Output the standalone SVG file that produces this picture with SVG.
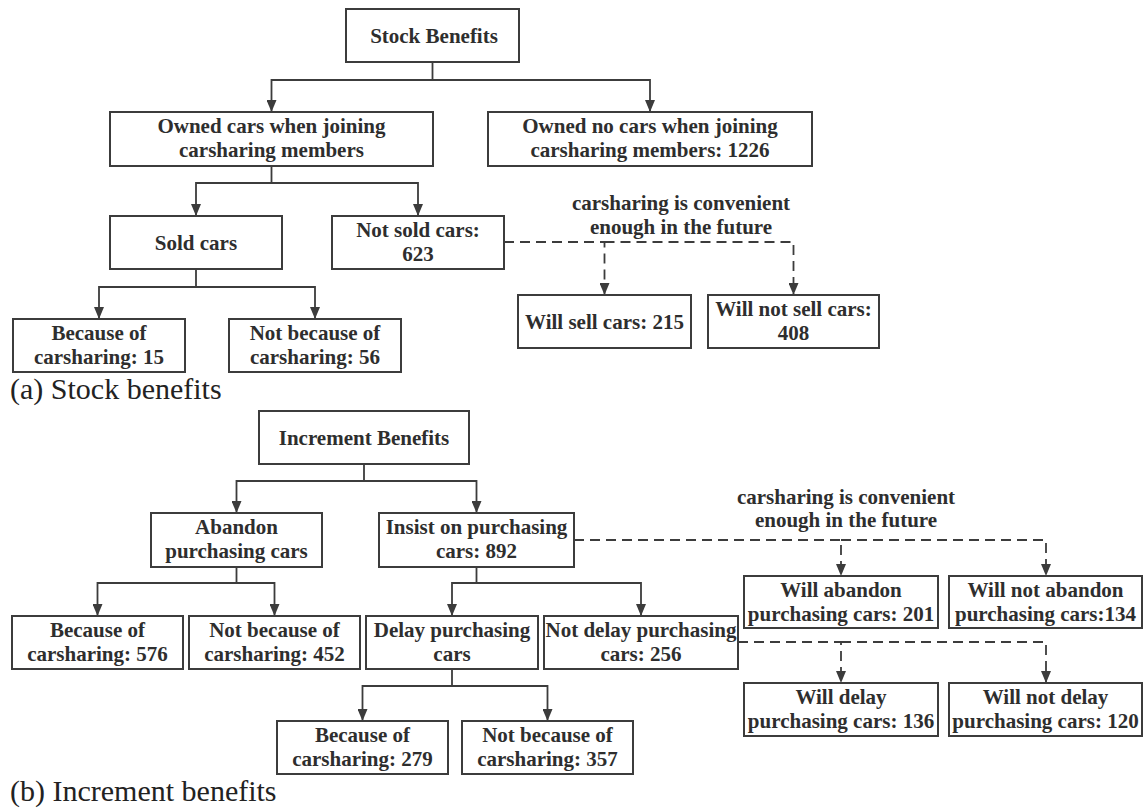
<svg xmlns="http://www.w3.org/2000/svg" width="1143" height="811" viewBox="0 0 1143 811">
<style>
.box{fill:#fff;stroke:#3c3c3c;stroke-width:2}
.t{font-family:"Liberation Serif","Times New Roman",serif;font-weight:bold;font-size:21px;fill:#2e2e2e;text-anchor:middle}
.cap{font-family:"Liberation Serif","Times New Roman",serif;font-size:30px;fill:#222}
.ln{fill:none;stroke:#3c3c3c;stroke-width:1.8}
.dash{stroke-dasharray:10,6}
</style>
<defs>
<marker id="ah" viewBox="0 0 12 10" refX="12" refY="5" markerWidth="12" markerHeight="10" markerUnits="userSpaceOnUse" orient="auto">
<path d="M0,0 L12,5 L0,10 z" fill="#3c3c3c"/>
</marker>
</defs>
<rect width="1143" height="811" fill="#fff"/>

<g id="connectors">
<path class="ln" marker-end="url(#ah)" d="M432.5,62 V80 H271.5 V112"/>
<path class="ln" marker-end="url(#ah)" d="M432.5,80 H650 V112"/>
<path class="ln" marker-end="url(#ah)" d="M271.5,166 V183 H196 V216"/>
<path class="ln" marker-end="url(#ah)" d="M271.5,183 H418 V216"/>
<path class="ln" marker-end="url(#ah)" d="M196,269 V287 H99 V319"/>
<path class="ln" marker-end="url(#ah)" d="M196,287 H315 V319"/>
<path class="ln dash" marker-end="url(#ah)" d="M504,242 H604.5 V295"/>
<path class="ln dash" marker-end="url(#ah)" d="M604.5,242 H793.5 V295"/>

<path class="ln" marker-end="url(#ah)" d="M364,464 V481 H236.5 V513"/>
<path class="ln" marker-end="url(#ah)" d="M364,481 H476.5 V513"/>
<path class="ln" marker-end="url(#ah)" d="M236.5,567 V583 H97.5 V616"/>
<path class="ln" marker-end="url(#ah)" d="M236.5,583 H274.5 V616"/>
<path class="ln" marker-end="url(#ah)" d="M476.5,567 V583 H452 V616"/>
<path class="ln" marker-end="url(#ah)" d="M476.5,583 H641 V616"/>
<path class="ln" marker-end="url(#ah)" d="M452,669 V686 H362.5 V721"/>
<path class="ln" marker-end="url(#ah)" d="M452,686 H547.5 V721"/>
<path class="ln dash" marker-end="url(#ah)" d="M574,540 H841 V576"/>
<path class="ln dash" marker-end="url(#ah)" d="M841,540 H1046 V576"/>
<path class="ln dash" marker-end="url(#ah)" d="M738,642 H841 V683"/>
<path class="ln dash" marker-end="url(#ah)" d="M841,642 H1046 V683"/>
</g>

<g id="label-a">
<text class="t" x="681" y="210">carsharing is convenient</text>
<text class="t" x="681" y="234">enough in the future</text>
</g>
<g id="label-b">
<text class="t" x="846" y="504">carsharing is convenient</text>
<text class="t" x="846" y="527">enough in the future</text>
</g>

<g id="stock-benefits"><rect class="box" x="346" y="9" width="173" height="53"/><text class="t" x="434" y="43">Stock Benefits</text></g>
<g id="owned-cars"><rect class="box" x="110" y="112" width="323" height="54"/><text class="t" x="271.5" y="133">Owned cars when joining</text><text class="t" x="271.5" y="157">carsharing members</text></g>
<g id="owned-no-cars"><rect class="box" x="488" y="112" width="324" height="54"/><text class="t" x="650" y="133">Owned no cars when joining</text><text class="t" x="650" y="157">carsharing members: 1226</text></g>
<g id="sold-cars"><rect class="box" x="110" y="216" width="172" height="53"/><text class="t" x="196" y="249.5">Sold cars</text></g>
<g id="not-sold-cars"><rect class="box" x="332" y="216" width="172" height="53"/><text class="t" x="418" y="237">Not sold cars:</text><text class="t" x="418" y="261">623</text></g>
<g id="because-15"><rect class="box" x="13" y="319" width="172" height="53"/><text class="t" x="99" y="340">Because of</text><text class="t" x="99" y="364">carsharing: 15</text></g>
<g id="not-because-56"><rect class="box" x="229" y="319" width="172" height="53"/><text class="t" x="315" y="340">Not because of</text><text class="t" x="315" y="364">carsharing: 56</text></g>
<g id="will-sell"><rect class="box" x="518" y="295" width="173" height="53"/><text class="t" x="604.5" y="328.5">Will sell cars: 215</text></g>
<g id="will-not-sell"><rect class="box" x="708" y="295" width="171" height="53"/><text class="t" x="793.5" y="316">Will not sell cars:</text><text class="t" x="793.5" y="340">408</text></g>

<text class="cap" x="10" y="399">(a) Stock benefits</text>

<g id="increment-benefits"><rect class="box" x="259" y="411" width="210" height="53"/><text class="t" x="364" y="445">Increment Benefits</text></g>
<g id="abandon"><rect class="box" x="151" y="513" width="171" height="54"/><text class="t" x="236.5" y="534">Abandon</text><text class="t" x="236.5" y="558">purchasing cars</text></g>
<g id="insist"><rect class="box" x="379" y="513" width="195" height="54"/><text class="t" x="476.5" y="534">Insist on purchasing</text><text class="t" x="476.5" y="558">cars: 892</text></g>
<g id="because-576"><rect class="box" x="12" y="616" width="171" height="53"/><text class="t" x="97.5" y="637">Because of</text><text class="t" x="97.5" y="661">carsharing: 576</text></g>
<g id="not-because-452"><rect class="box" x="189" y="616" width="171" height="53"/><text class="t" x="274.5" y="637">Not because of</text><text class="t" x="274.5" y="661">carsharing: 452</text></g>
<g id="delay"><rect class="box" x="366" y="616" width="172" height="53"/><text class="t" x="452" y="637">Delay purchasing</text><text class="t" x="452" y="661">cars</text></g>
<g id="not-delay"><rect class="box" x="544" y="616" width="194" height="53"/><text class="t" x="641" y="637">Not delay purchasing</text><text class="t" x="641" y="661">cars: 256</text></g>
<g id="because-279"><rect class="box" x="277" y="721" width="171" height="53"/><text class="t" x="362.5" y="742">Because of</text><text class="t" x="362.5" y="766">carsharing: 279</text></g>
<g id="not-because-357"><rect class="box" x="462" y="721" width="171" height="53"/><text class="t" x="547.5" y="742">Not because of</text><text class="t" x="547.5" y="766">carsharing: 357</text></g>
<g id="will-abandon"><rect class="box" x="744" y="576" width="194" height="52"/><text class="t" x="841" y="597">Will abandon</text><text class="t" x="841" y="621">purchasing cars: 201</text></g>
<g id="will-not-abandon"><rect class="box" x="949" y="576" width="193" height="52"/><text class="t" x="1045.5" y="597">Will not abandon</text><text class="t" x="1045.5" y="621">purchasing cars:134</text></g>
<g id="will-delay"><rect class="box" x="744" y="683" width="194" height="53"/><text class="t" x="841" y="704">Will delay</text><text class="t" x="841" y="728">purchasing cars: 136</text></g>
<g id="will-not-delay"><rect class="box" x="949" y="683" width="193" height="53"/><text class="t" x="1045.5" y="704">Will not delay</text><text class="t" x="1045.5" y="728">purchasing cars: 120</text></g>

<text class="cap" x="10" y="801">(b) Increment benefits</text>
</svg>
